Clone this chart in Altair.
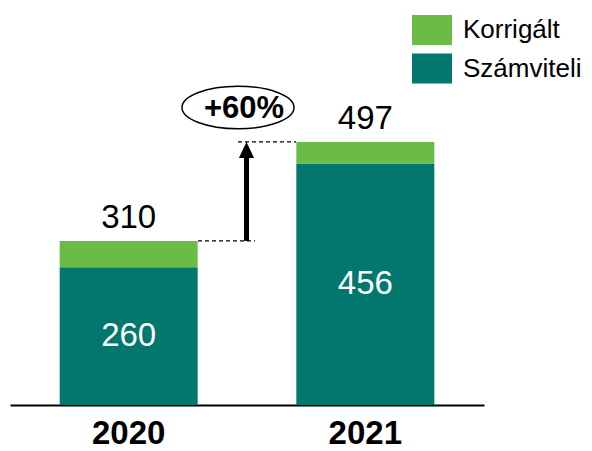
import altair as alt
import pandas as pd

# ---- data ----
years = ["2020", "2021"]
series_names = ["Korrigált", "Számviteli"]
szamviteli = [260, 456]
korrigalt = [50, 41]
totals = [s + k for s, k in zip(szamviteli, korrigalt)]  # 310, 497
colors = ["#6bbc46", "#01776e"]
growth_label = "+60%"

FONT = "Arial, Liberation Sans, sans-serif"

rows = []
for i, y in enumerate(years):
    rows.append({"year": y, "series": "Számviteli", "value": szamviteli[i], "ord": 0})
    rows.append({"year": y, "series": "Korrigált", "value": korrigalt[i], "ord": 1})
df = pd.DataFrame(rows)

inner_df = pd.DataFrame({"year": years, "mid": [v / 2 for v in szamviteli], "label": [str(v) for v in szamviteli]})
tot_df = pd.DataFrame({"year": years, "total": totals, "label": [str(v) for v in totals]})
ann_df = pd.DataFrame({"start": [totals[0]], "end": [totals[1]], "label": [growth_label]})

x_enc = alt.X(
    "year:N",
    sort=years,
    scale=alt.Scale(paddingInner=0.415, paddingOuter=0.209),
    axis=alt.Axis(
        title=None, labelAngle=0, ticks=False, domainColor="black", domainWidth=2,
        labelFont=FONT, labelFontSize=33, labelFontWeight="bold", labelColor="black",
        labelPadding=12,
    ),
)
y_scale = alt.Scale(domain=[0, 750], nice=False, zero=True)

bars = alt.Chart(df).mark_bar(size=138).encode(
    x=x_enc,
    y=alt.Y("value:Q", stack="zero", scale=y_scale, axis=None),
    color=alt.Color(
        "series:N",
        scale=alt.Scale(domain=series_names, range=colors),
        legend=alt.Legend(
            orient="none", legendX=402, legendY=2, title=None,
            symbolType="M-1,-0.75H1V0.75H-1Z", symbolSize=1600, symbolStrokeWidth=0,
            symbolOpacity=1,
            labelFont=FONT, labelFontSize=26, labelColor="black", labelOffset=11,
            rowPadding=3.5, padding=0, labelLimit=200,
        ),
    ),
    order=alt.Order("ord:Q"),
)

inner_text = alt.Chart(inner_df).mark_text(
    font=FONT, fontSize=33, color="white", baseline="middle"
).encode(x=alt.X("year:N", sort=years), y=alt.Y("mid:Q"), text="label:N")

tot_text = alt.Chart(tot_df).mark_text(
    font=FONT, fontSize=33, color="black", baseline="alphabetic", dy=-13
).encode(x=alt.X("year:N", sort=years), y=alt.Y("total:Q"), text="label:N")

dash1 = alt.Chart(ann_df).mark_rule(color="black", strokeWidth=1.2, strokeDash=[4, 3]).encode(
    x=alt.value(188), x2=alt.value(245), y=alt.Y("start:Q")
)
dash2 = alt.Chart(ann_df).mark_rule(color="black", strokeWidth=1.2, strokeDash=[4, 3]).encode(
    x=alt.value(228), x2=alt.value(286), y=alt.Y("end:Q")
)
shaft = alt.Chart(ann_df).mark_rule(color="black", strokeWidth=5, y2Offset=10).encode(
    x=alt.value(236.5), y=alt.Y("start:Q"), y2="end:Q"
)
head = alt.Chart(ann_df).mark_point(
    shape="M0,0L0.95,2L-0.95,2Z", size=256, filled=True, fill="black", opacity=1, strokeWidth=0
).encode(x=alt.value(236.5), y=alt.Y("end:Q"))

ELLIPSE = ("M-1,0C-1,-0.2099,-0.5523,-0.38,0,-0.38"
           "C0.5523,-0.38,1,-0.2099,1,0"
           "C1,0.2099,0.5523,0.38,0,0.38"
           "C-0.5523,0.38,-1,0.2099,-1,0Z")
ellipse = alt.Chart(ann_df).mark_point(
    shape=ELLIPSE, size=12544,
    filled=True, fill="white", stroke="black", strokeWidth=1.5, opacity=1,
).encode(x=alt.value(228), y=alt.value(99.5))
growth = alt.Chart(ann_df).mark_text(
    font=FONT, fontSize=31, fontWeight="bold", color="black", baseline="middle"
).encode(x=alt.value(234), y=alt.value(101), text="label:N")

chart = alt.layer(
    bars, inner_text, tot_text, dash1, dash2, shaft, head, ellipse, growth
).properties(
    width=474, height=397,
    padding={"left": 2, "top": 0, "right": 100, "bottom": 60},
    autosize=alt.AutoSizeParams(type="none"),
).configure_view(stroke=None)

chart.save("out.html", embed_options={"renderer": "svg", "actions": False})
